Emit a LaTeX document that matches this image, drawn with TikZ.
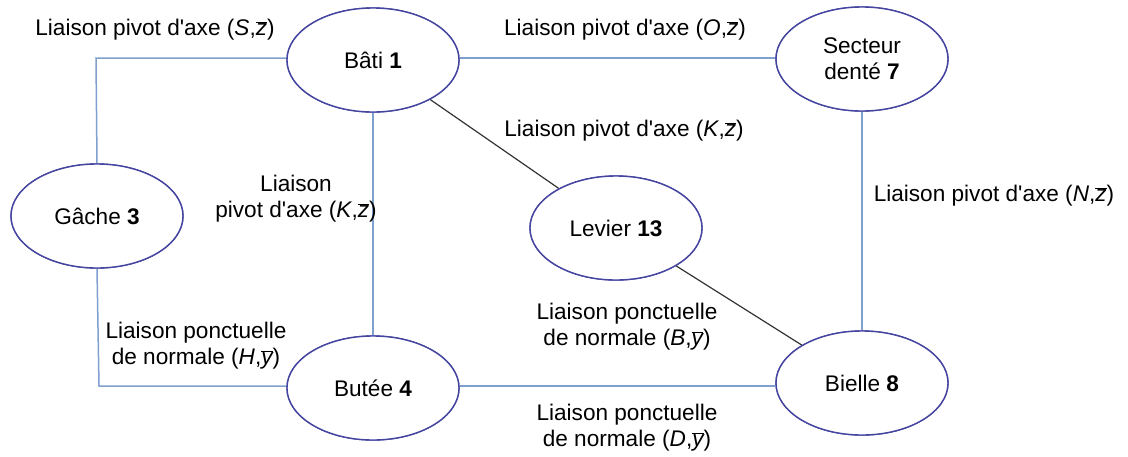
\documentclass[tikz,border=0pt]{standalone}
\usepackage{fontspec}
\setmainfont{Liberation Sans}
\usetikzlibrary{shapes.geometric}
\definecolor{ellc}{HTML}{4545A0}
\definecolor{linkc}{HTML}{7F9FCF}
\definecolor{darkc}{HTML}{333333}
\newcommand\vecbar[1]{\ensuremath{\overline{\mbox{\itshape #1}}}}
\newcommand\ap{\textquotesingle}
\begin{document}
\begin{tikzpicture}[x=1pt,y=-1pt,
  part/.style={ellipse,draw=ellc,line width=1.4pt,fill=white,inner sep=0pt,
    minimum width=172pt,minimum height=104pt,align=center,
    font=\fontsize{22.6}{26}\selectfont},
  lbl/.style={align=center,inner sep=0pt,font=\fontsize{22.6}{26}\selectfont},
  link/.style={draw=linkc,line width=1.5pt},
  dlink/.style={draw=darkc,line width=1.2pt}]
\useasboundingbox (0,0) rectangle (1128,456);
\coordinate (c1) at (96,58);
\coordinate (c2) at (99,386);
\node[part] (bati) at (373,60) {Bâti \textbf{1}};
\node[part] (sect) at (862,59) {Secteur\\dent\'e \textbf{7}};
\node[part] (gache) at (97,216) {Gâche \textbf{3}};
\node[part] (levier) at (616,228) {Levier \textbf{13}};
\node[part] (butee) at (373,388) {Butée \textbf{4}};
\node[part] (bielle) at (862,383) {Bielle \textbf{8}};
\draw[link] (bati.west |- c1) -- (c1) -- (gache.north);
\draw[link] (bati.east |- 0,58) -- (sect.west |- 0,58);
\draw[link] (bati.south) -- (butee.north);
\draw[link] (sect.south) -- (bielle.north);
\draw[link] (gache.south) -- (c2) -- (butee.west |- c2);
\draw[link] (butee.east |- 0,386) -- (bielle.west |- 0,386);
\draw[dlink] (bati) -- (levier);
\draw[dlink] (levier) -- (bielle);
% redraw ellipses on top of the connectors
\node[part] at (bati) {Bâti \textbf{1}};
\node[part] at (sect) {Secteur\\dent\'e \textbf{7}};
\node[part] at (gache) {Gâche \textbf{3}};
\node[part] at (levier) {Levier \textbf{13}};
\node[part] at (butee) {Butée \textbf{4}};
\node[part] at (bielle) {Bielle \textbf{8}};
% labels
\node[lbl] (l1) at (155,30) {Liaison pivot d\ap axe (\textit{S},\vecbar{z})};
\node[lbl] (l2) at (625,30) {Liaison pivot d\ap axe (\textit{O},\vecbar{z})};
\node[lbl] (l3) at (624,131) {Liaison pivot d\ap axe (\textit{K},\vecbar{z})};
\node[lbl] (l4) at (296,199) {Liaison\\pivot d\ap axe (\textit{K},\vecbar{z})};
\node[lbl] (l5) at (994,196) {Liaison pivot d\ap axe (\textit{N},\vecbar{z})};
\node[lbl] (l6) at (196,346) {Liaison ponctuelle\\de normale (\textit{H},\vecbar{y})};
\node[lbl] (l7) at (627,327) {Liaison ponctuelle\\de normale (\textit{B},\vecbar{y})};
\node[lbl] (l8) at (627,428) {Liaison ponctuelle\\de normale (\textit{D},\vecbar{y})};
\end{tikzpicture}
\end{document}
